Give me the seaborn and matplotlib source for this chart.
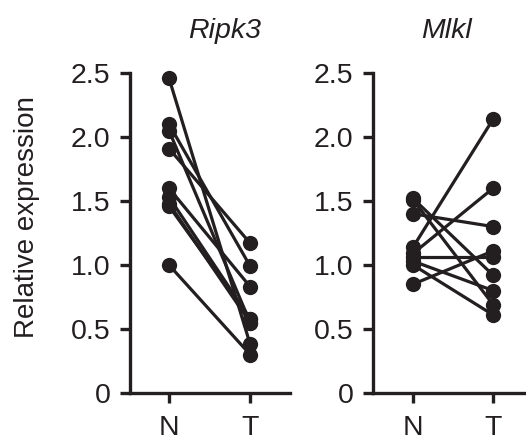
import numpy as np
import pandas as pd
import matplotlib
matplotlib.use("Agg")
import matplotlib.pyplot as plt
import seaborn as sns

conditions = ["N", "T"]
ripk3_N = [2.46, 2.10, 2.05, 1.91, 1.60, 1.53, 1.48, 1.46, 1.00]
ripk3_T = [0.38, 0.99, 0.55, 1.17, 0.83, 0.58, 0.55, 0.58, 0.30]
mlkl_N = [1.52, 1.51, 1.40, 1.14, 1.09, 1.065, 1.03, 1.00, 0.85]
mlkl_T = [0.92, 0.69, 1.30, 2.14, 1.60, 1.065, 0.80, 0.61, 1.11]
genes = ["Ripk3", "Mlkl"]
y_ticks = [0, 0.5, 1.0, 1.5, 2.0, 2.5]
y_tick_labels = ["0", "0.5", "1.0", "1.5", "2.0", "2.5"]

sns.set_theme(style="ticks")
plt.rcParams['font.family'] = ['Liberation Sans', 'DejaVu Sans']

INK = "#231f20"

def make_df(nv, tv):
    rows = []
    for i, (a, b) in enumerate(zip(nv, tv)):
        rows.append({"subject": i, "pos": 0, "value": a})
        rows.append({"subject": i, "pos": 1, "value": b})
    return pd.DataFrame(rows)

fig = plt.figure(figsize=(5.26, 4.4), dpi=100)
ax1 = fig.add_axes([130/526, 47/440, 160/526, 320/440])
ax2 = fig.add_axes([373/526, 47/440, 153/526, 320/440])

panels = [(ax1, make_df(ripk3_N, ripk3_T), genes[0], (-0.48, 1.49), 0.59),
          (ax2, make_df(mlkl_N, mlkl_T), genes[1], (-0.5, 1.41), 0.48)]

for ax, df, title, xl, tx in panels:
    sns.lineplot(data=df, x="pos", y="value", units="subject", estimator=None,
                 color=INK, marker="o", markersize=11, linewidth=2.3,
                 markeredgewidth=0, ax=ax, legend=False, clip_on=False)
    ax.set_xlim(*xl)
    ax.set_ylim(0, 2.5)
    ax.set_xticks([0, 1])
    ax.set_xticklabels(conditions)
    ax.set_yticks(y_ticks)
    ax.set_yticklabels(y_tick_labels)
    ax.set_xlabel("")
    ax.set_ylabel("")
    ax.set_facecolor("white")
    for s in ["top", "right"]:
        ax.spines[s].set_visible(False)
    for s in ["left", "bottom"]:
        ax.spines[s].set_linewidth(2.4)
        ax.spines[s].set_color(INK)
    ax.tick_params(axis="both", direction="out", length=7, width=2.4,
                   color=INK, labelsize=20.5, labelcolor=INK)
    ax.tick_params(axis="y", pad=7)
    ax.tick_params(axis="x", pad=9)
    ax.text(tx, 1.0 + 35/320, title, transform=ax.transAxes, fontsize=20.5,
            style="italic", color=INK, ha="center", va="baseline")

ax1.set_ylabel("Relative expression", fontsize=20, color=INK)
ax1.yaxis.set_label_coords(-0.56, 0.55)

fig.savefig("out.png", dpi=100, facecolor="white")
